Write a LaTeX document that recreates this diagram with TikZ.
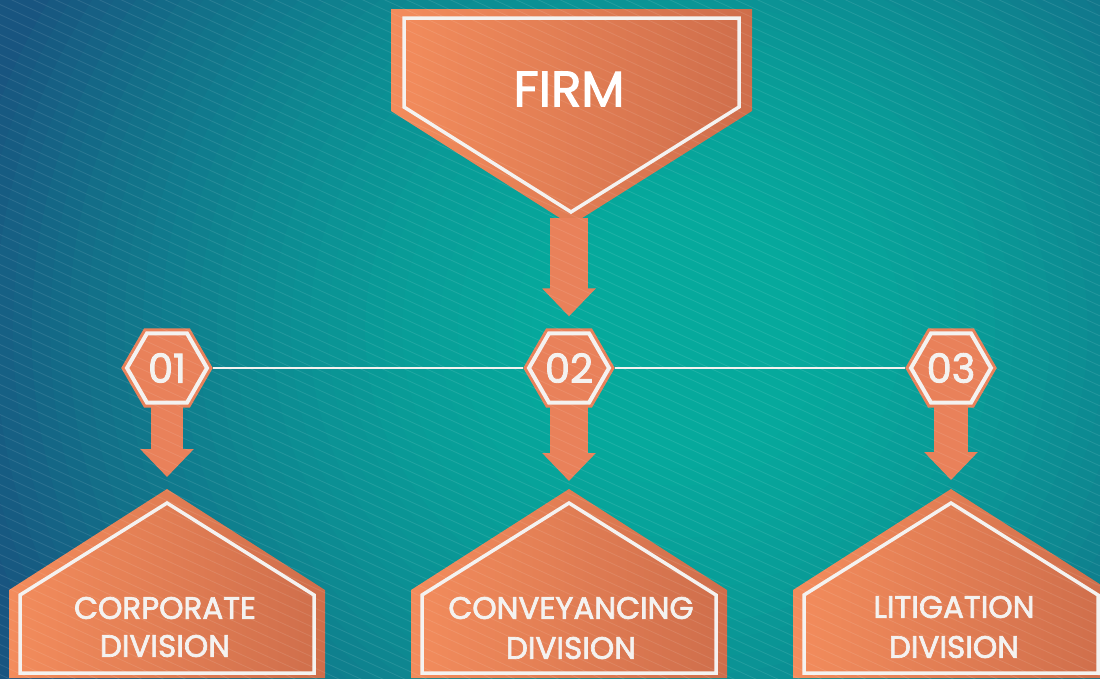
\documentclass[tikz,border=0pt]{standalone}
\usepackage{fontspec}
\setmainfont{Poppins}[FakeBold=2.2]
\usetikzlibrary{shapes.geometric,arrows.meta}
\usetikzlibrary{positioning}
\definecolor{bgA}{HTML}{06A99C}
\definecolor{bgE}{HTML}{185580}
\definecolor{orlight}{HTML}{F38C5C}
\definecolor{ordark}{HTML}{CF6E4B}
\definecolor{orflat}{HTML}{E9815A}
\definecolor{offwhite}{HTML}{F4F2F0}
\tikzstyle{panel} = [left color=orlight, right color=ordark, draw=none]
\tikzstyle{rim} = [draw=offwhite, line width=3.5pt, line join=miter]
\tikzstyle{bigarrow} = [draw=orflat, line width=36pt,
  -{Triangle[length=28pt, width=52pt]}]

\begin{document}
\begin{tikzpicture}[x=1pt, y=-1pt,
	hex/.style={regular polygon, regular polygon sides=6, minimum size=80pt,
		inner sep=0pt, outer sep=0pt, fill=orflat, draw=offwhite, line width=4pt,
		preaction={draw=orflat, line width=10pt},
		text=offwhite, font=\fontsize{40}{40}\selectfont},
	firmtext/.style={text=white, font=\fontsize{50}{50}\selectfont},
	divtext/.style={text=offwhite, align=center, font=\fontsize{31}{38}\selectfont},
	link/.style={draw=offwhite, line width=2pt, shorten <=6pt, shorten >=6pt},
	stripe/.style={draw=white, opacity=0.1, line width=0.8pt}]
	%% Background
	\useasboundingbox (0,0) rectangle (1100,678);
	\clip (0,0) rectangle (1100,678);
	\fill[bgE] (0,0) rectangle (1100,678);
	\foreach \i in {52,...,6} {
		\pgfmathsetmacro\mix{100*min(1,(max(\i/40-0.15,0.001)/0.85)^1.5)}
		\pgfmathsetmacro\rx{18.525*\i}
		\pgfmathsetmacro\ry{17.325*\i}
		\fill[bgE!\mix!bgA] (680,330) ellipse ({\rx} and {\ry});
	}
	%% Firm
	\path[panel] (391,9) -- (752,9) -- (752,111) -- (571,225) -- (391,111) -- cycle;
	\draw[rim] (404,18) -- (739,18) -- (739,107) -- (571,212) -- (404,107) -- cycle;
	\node[firmtext] (firm) at (569,89) {FIRM};
	\coordinate (firmtip) at (569,218);
	%% Numbers
	\node[hex] (h1) at (167,368) {01};
	\node[hex] (h2) at (569,368) {02};
	\node[hex] (h3) at (951,368) {03};
	\draw[link] (h1.east) -- (h2.west);
	\draw[link] (h2.east) -- (h3.west);
	%% Divisions
	\path[panel] (9,678) -- (9,590) -- (167,489) -- (325,590) -- (325,678) -- cycle;
	\draw[rim] (20,673) -- (20,595) -- (167,503) -- (314,595) -- (314,673) -- cycle;
	\coordinate (top1) at (167,489);
	\node[divtext] (d1) at (165,627) {CORPORATE\\DIVISION};
	\path[panel] (411,678) -- (411,590) -- (569,489) -- (727,590) -- (727,678) -- cycle;
	\draw[rim] (422,673) -- (422,595) -- (569,503) -- (716,595) -- (716,673) -- cycle;
	\coordinate (top2) at (569,489);
	\node[divtext, font=\fontsize{31}{40}\selectfont] (d2) at (571,628) {CONVEYANCING\\DIVISION};
	\path[panel] (793,678) -- (793,590) -- (951,489) -- (1109,590) -- (1109,678) -- cycle;
	\draw[rim] (804,673) -- (804,595) -- (951,503) -- (1098,595) -- (1098,673) -- cycle;
	\coordinate (top3) at (951,489);
	\node[divtext, font=\fontsize{31}{40}\selectfont] (d3) at (954,627) {LITIGATION\\DIVISION};
	%% Arrows
	\path[bigarrow, line width=38pt, shorten >=17pt] (firmtip) -- (h2.north);
	\path[bigarrow, line width=32pt, shorten <=2pt, shorten >=12pt] (h1.south) -- (top1);
	\path[bigarrow, line width=38pt, shorten <=2pt, shorten >=8pt] (h2.south) -- (top2);
	\path[bigarrow, line width=34pt, shorten <=2pt, shorten >=9pt] (h3.south) -- (top3);
	%% Stripes
	\foreach \k in {-56,...,68}
		\draw[stripe] (-10,\k*10) -- ++(1130,515);
\end{tikzpicture}
\end{document}
